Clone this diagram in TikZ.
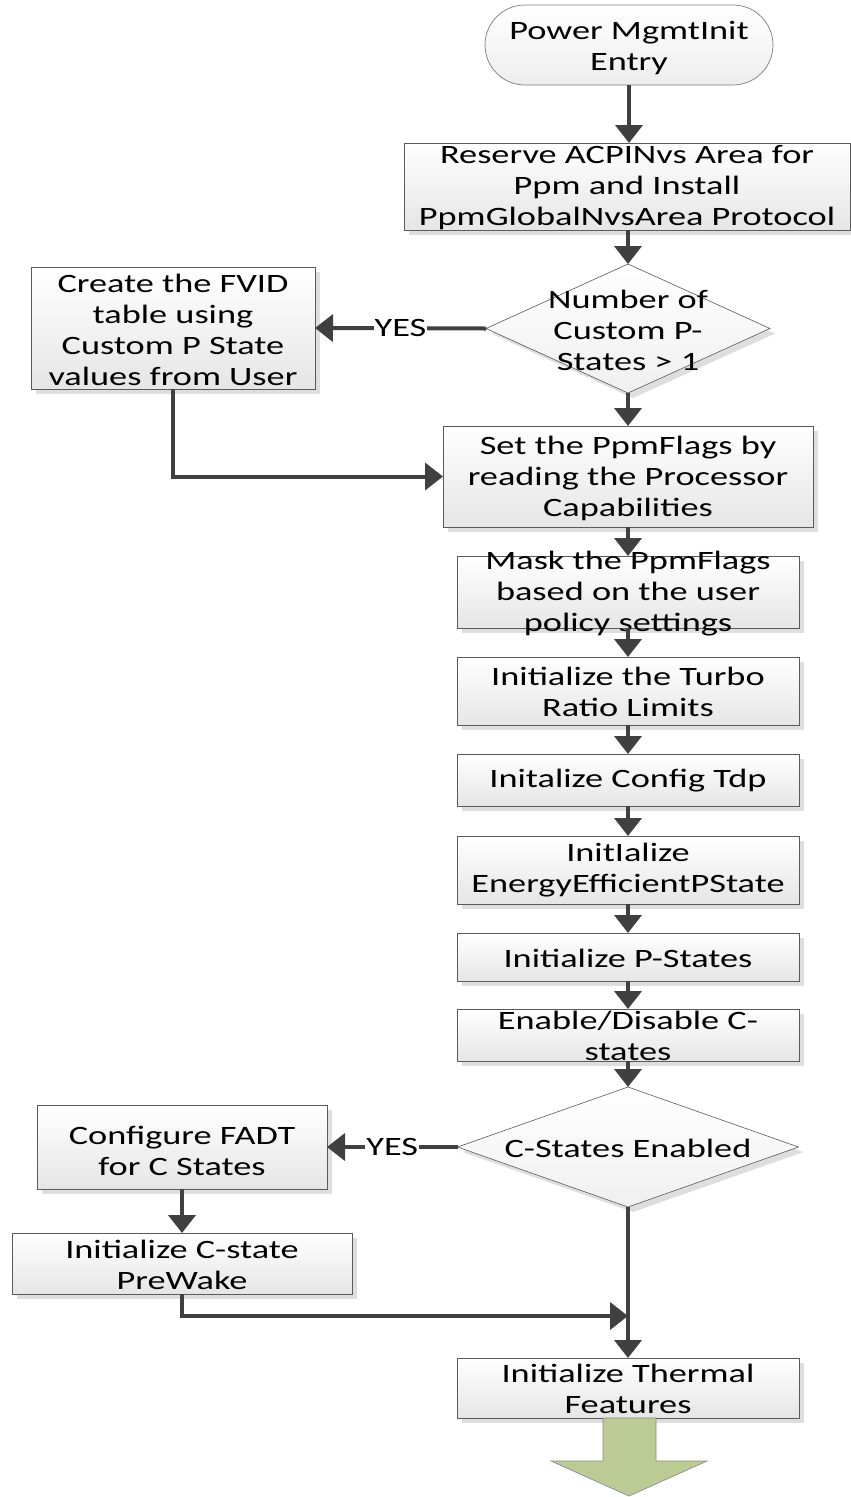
\documentclass[tikz,border=0pt]{standalone}
\usepackage{fontspec}
\setmainfont{Carlito}[FakeStretch=1.37]
\usetikzlibrary{arrows.meta,shapes.geometric,shadows}
\definecolor{boxline}{HTML}{5A5A5A}
\definecolor{flowc}{HTML}{404040}
\definecolor{endgreen}{HTML}{BBCB93}
\tikzset{
  base/.style={inner sep=0pt, outer sep=0pt},
  boxshadow/.style={drop shadow={shadow xshift=5pt, shadow yshift=-5pt, fill=black!13, opacity=1}},
  proc/.style={base, rectangle, draw=boxline, line width=0.9pt, top color=white, bottom color=black!10, boxshadow},
  decision/.style={base, diamond, draw=boxline, line width=0.6pt, top color=white, bottom color=black!6, boxshadow},
  term/.style={base, rectangle, rounded corners=40pt, draw=boxline!80, line width=0.7pt, top color=white, bottom color=black!7},
  txt/.style={inner sep=0pt, align=center, font=\fontsize{26.5}{31}\selectfont, text=black},
  yes/.style={txt, fill=white, inner xsep=1pt, inner ysep=2pt},
  flow/.style={draw=flowc, line width=4pt, -{Triangle[width=27pt,length=18pt]}},
}
\begin{document}
\begin{tikzpicture}[x=1pt,y=-1pt]
\useasboundingbox (0,0) rectangle (851,1497);

% process column
\node[term, minimum width=288pt, minimum height=80pt] (start) at (629,45) {};
\node[txt] (start-t) at (629,48) {Power MgmtInit\\Entry};

\node[proc, minimum width=446pt, minimum height=87pt] (box1) at (627,186.5) {};
\node[txt] (box1-t) at (627,188) {Reserve ACPINvs Area for\\Ppm and Install\\PpmGlobalNvsArea Protocol};

\node[decision, minimum width=284pt, minimum height=129pt] (dec1) at (628,328.5) {};
\node[txt] (dec1-t) at (628,330) {Number of\\Custom P-\\States > 1};

\node[proc, minimum width=284pt, minimum height=122pt] (fvid) at (173,328) {};
\node[txt] (fvid-t) at (173,330) {Create the FVID\\table using\\Custom P State\\values from User};

\node[proc, minimum width=370pt, minimum height=101pt] (box2) at (628,476.5) {};
\node[txt] (box2-t) at (628,478) {Set the PpmFlags by\\reading the Processor\\Capabilities};

\node[proc, minimum width=342pt, minimum height=72pt] (box3) at (628,592) {};
\node[txt] (box3-t) at (628,594) {Mask the PpmFlags\\based on the user\\policy settings};

\node[proc, minimum width=342pt, minimum height=68pt] (box4) at (628,691) {};
\node[txt] (box4-t) at (628,692) {Initialize the Turbo\\Ratio Limits};

\node[proc, minimum width=342pt, minimum height=52pt] (box5) at (628,780) {};
\node[txt] (box5-t) at (628,781) {Initalize Config Tdp};

\node[proc, minimum width=342pt, minimum height=68pt] (box6) at (628,870) {};
\node[txt] (box6-t) at (628,870) {InitIalize\\EnergyEfficientPState};

\node[proc, minimum width=342pt, minimum height=48pt] (box7) at (628,957) {};
\node[txt] (box7-t) at (628,958) {Initialize P-States};

\node[proc, minimum width=342pt, minimum height=52pt] (box8) at (628,1035) {};
\node[txt] (box8-t) at (628,1036) {Enable/Disable C-\\states};

\node[decision, minimum width=341pt, minimum height=120pt] (dec2) at (628,1147) {};
\node[txt] (dec2-t) at (628,1148) {C-States Enabled};

\node[proc, minimum width=290pt, minimum height=84pt] (cfg) at (182,1147) {};
\node[txt] (cfg-t) at (182,1151) {Configure FADT\\for C States};

\node[proc, minimum width=340pt, minimum height=61pt] (pw) at (182,1263.5) {};
\node[txt] (pw-t) at (182,1265) {Initialize C-state\\PreWake};

\node[proc, minimum width=342pt, minimum height=60pt] (therm) at (628,1388) {};
\node[txt] (therm-t) at (628,1389) {Initialize Thermal\\Features};

% connectors
\draw[flow] (start.south) -- (start.south |- box1.north);
\draw[flow] (box1.south -| dec1.north) -- (dec1.north);
\draw[flow] (dec1.west) -- node[yes] (yes1) {YES} (fvid.east);
\draw[flow] (dec1.south) -- (box2.north);
\draw[flow] (fvid.south) |- (box2.west);
\draw[flow] (box2.south) -- (box3.north);
\draw[flow] (box3.south) -- (box4.north);
\draw[flow] (box4.south) -- (box5.north);
\draw[flow] (box5.south) -- (box6.north);
\draw[flow] (box6.south) -- (box7.north);
\draw[flow] (box7.south) -- (box8.north);
\draw[flow] (box8.south) -- (dec2.north);
\draw[flow] (dec2.west) -- node[yes] (yes2) {YES} (cfg.east);
\draw[flow] (cfg.south) -- (pw.north);
\coordinate (merge) at (628,1316);
\draw[flow] (pw.south) |- (merge);
\draw[flow] (dec2.south) -- (therm.north);

% off-page continuation arrow
\coordinate (g1) at (603,1418);
\coordinate (g2) at (603,1461);
\coordinate (g3) at (551,1461);
\coordinate (g4) at (629,1496);
\coordinate (g5) at (707,1461);
\coordinate (g6) at (656,1461);
\coordinate (g7) at (656,1418);
\draw[fill=endgreen, draw=black!45, line width=0.7pt, line join=miter]
  (g1) -- (g2) -- (g3) -- (g4) -- (g5) -- (g6) -- (g7) -- cycle;
\end{tikzpicture}
\end{document}
